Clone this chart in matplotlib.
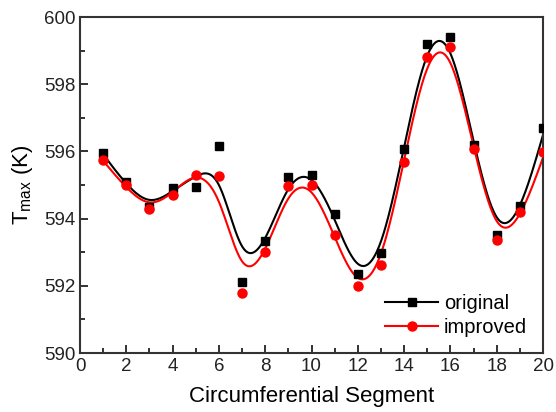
import numpy as np
import matplotlib
matplotlib.use("Agg")
import matplotlib.pyplot as plt
from matplotlib.ticker import MultipleLocator

plt.rcParams['font.family'] = ['Liberation Sans', 'DejaVu Sans']

segments = [1, 2, 3, 4, 5, 6, 7, 8, 9, 10, 11, 12, 13, 14, 15, 16, 17, 18, 19, 20]
original = [595.95, 595.1, 594.35, 594.9, 594.94, 596.16, 592.1, 593.33, 595.24, 595.3,
            594.14, 592.35, 592.98, 596.07, 599.2, 599.4, 596.2, 593.5, 594.38, 596.7]
improved = [595.75, 595.0, 594.3, 594.7, 595.3, 595.27, 591.8, 593.0, 594.97, 595.0,
            593.5, 592.0, 592.63, 595.68, 598.8, 599.1, 596.07, 593.36, 594.2, 595.98]


def smoothing_spline(x, y, lam, xs):
    x = np.asarray(x, float); y = np.asarray(y, float)
    n = len(x); h = np.diff(x)
    Q = np.zeros((n, n - 2)); R = np.zeros((n - 2, n - 2))
    for j in range(1, n - 1):
        c = j - 1
        Q[j - 1, c] = 1 / h[j - 1]
        Q[j, c] = -1 / h[j - 1] - 1 / h[j]
        Q[j + 1, c] = 1 / h[j]
        R[c, c] = (h[j - 1] + h[j]) / 3
        if c + 1 < n - 2:
            R[c, c + 1] = h[j] / 6
            R[c + 1, c] = h[j] / 6
    g = np.linalg.solve(R + lam * Q.T @ Q, Q.T @ y)
    f = y - lam * Q @ g
    gam = np.concatenate([[0], g, [0]])
    out = np.empty_like(xs)
    for k, xv in enumerate(xs):
        i = min(max(np.searchsorted(x, xv) - 1, 0), n - 2)
        a = xv - x[i]; b = x[i + 1] - xv; hh = h[i]
        out[k] = (b * f[i] + a * f[i + 1]) / hh - a * b / 6 * ((1 + a / hh) * gam[i + 1] + (1 + b / hh) * gam[i])
    return out


fig = plt.figure(figsize=(5.56, 4.12), dpi=100)
ax = fig.add_axes([80 / 556, 1 - 353 / 412, 463 / 556, 336 / 412])

xs = np.linspace(1, 20, 600)
lam = 0.12
ax.plot(xs, smoothing_spline(segments, original, lam, xs), color='black', lw=1.5, zorder=2)
ax.plot(xs, smoothing_spline(segments, improved, lam, xs), color='red', lw=1.5, zorder=2)
ax.plot(segments, original, 's', color='black', ms=6, zorder=3)
ax.plot(segments, improved, 'o', color='red', ms=6.5, zorder=3)

ax.plot([], [], '-s', color='black', ms=6, lw=1.5, label='original')
ax.plot([], [], '-o', color='red', ms=6.5, lw=1.5, label='improved')
ax.legend(loc='lower right', frameon=False, fontsize=14.5, handlelength=2.6,
          handletextpad=0.3, borderaxespad=0.4, labelspacing=0.25, bbox_to_anchor=(1.0, 0.0))

ax.set_xlim(0, 20)
ax.set_ylim(590, 600)
ax.xaxis.set_major_locator(MultipleLocator(2))
ax.xaxis.set_minor_locator(MultipleLocator(1))
ax.yaxis.set_major_locator(MultipleLocator(2))
ax.yaxis.set_minor_locator(MultipleLocator(1))
ax.tick_params(which='both', direction='in', top=False, right=False, labelsize=13.5, width=1.3, colors='#222222')
ax.tick_params(which='major', length=6)
ax.tick_params(which='minor', length=3.5)
for s in ax.spines.values():
    s.set_linewidth(1.5)
    s.set_color('#333333')
ax.set_xlabel('Circumferential Segment', fontsize=16, labelpad=8)
ax.set_ylabel(r'T$_{\mathregular{max}}$ (K)', fontsize=16, labelpad=6)

fig.savefig('out.png', dpi=100)
